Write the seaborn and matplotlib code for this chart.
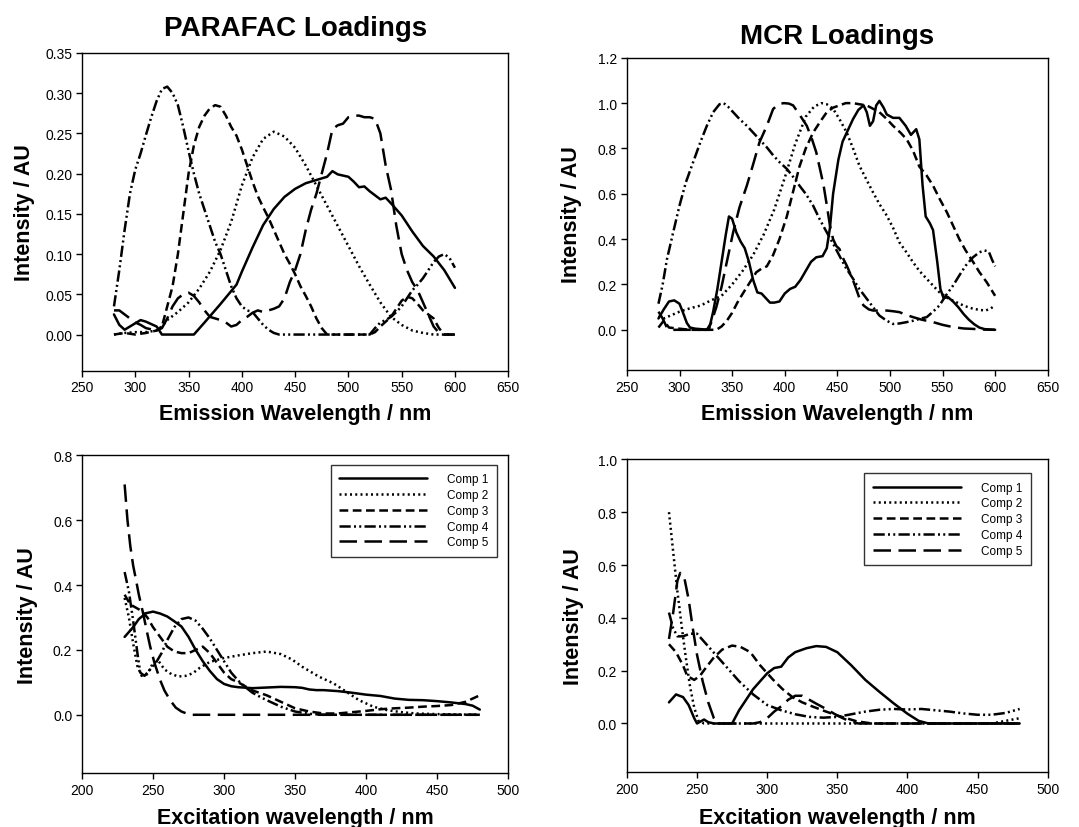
import matplotlib
matplotlib.use("Agg")
import matplotlib.pyplot as plt
from matplotlib.ticker import FormatStrFormatter
import seaborn as sns

# ---------------- PARAFAC emission loadings ----------------
par_em_x1 = [280, 285, 290, 295, 300, 305, 310, 315, 320, 325, 355, 365, 380, 395, 400, 410, 420, 430, 440,
             450, 460, 470, 480, 485, 490, 500, 505, 510, 515, 520, 530, 535, 540, 550, 560, 570, 580, 590, 600]
par_em_y1 = [0.025, 0.012, 0.006, 0.01, 0.014, 0.018, 0.016, 0.013, 0.01, 0.0, 0.0, 0.015, 0.038, 0.062, 0.078,
             0.108, 0.136, 0.156, 0.171, 0.181, 0.188, 0.192, 0.196, 0.203, 0.199, 0.196, 0.19, 0.183, 0.184,
             0.178, 0.168, 0.17, 0.163, 0.148, 0.128, 0.11, 0.097, 0.08, 0.058]
par_em_x2 = [280, 290, 300, 310, 320, 325, 330, 340, 350, 360, 370, 380, 390, 400, 410, 420, 430, 440, 450,
             460, 470, 480, 490, 500, 510, 520, 530, 540, 550, 560, 570, 580, 600]
par_em_y2 = [0.0, 0.002, 0.003, 0.003, 0.005, 0.01, 0.018, 0.028, 0.04, 0.057, 0.078, 0.105, 0.14, 0.185,
             0.22, 0.243, 0.252, 0.246, 0.232, 0.21, 0.185, 0.16, 0.135, 0.11, 0.085, 0.062, 0.04, 0.022,
             0.012, 0.005, 0.002, 0.0, 0.0]
par_em_x3 = [280, 290, 300, 310, 320, 325, 330, 335, 340, 345, 350, 355, 360, 365, 370, 375, 380, 385, 390,
             395, 400, 405, 410, 415, 420, 425, 430, 435, 440, 445, 450, 455, 460, 465, 470, 475, 480, 520,
             525, 530, 540, 545, 550, 555, 560, 565, 570, 575, 580, 585, 590, 600]
par_em_y3 = [0.0, 0.002, 0.0, 0.002, 0.005, 0.01, 0.035, 0.06, 0.1, 0.15, 0.2, 0.235, 0.258, 0.272, 0.281,
             0.285, 0.283, 0.272, 0.258, 0.247, 0.23, 0.21, 0.19, 0.172, 0.158, 0.145, 0.13, 0.115, 0.1,
             0.088, 0.075, 0.06, 0.048, 0.035, 0.02, 0.008, 0.0, 0.0, 0.003, 0.01, 0.022, 0.032, 0.042,
             0.047, 0.045, 0.038, 0.03, 0.025, 0.02, 0.008, 0.0, 0.0]
par_em_x4 = [280, 285, 290, 295, 300, 305, 310, 315, 320, 325, 330, 335, 340, 345, 350, 355, 360, 365, 370,
             375, 380, 385, 390, 395, 400, 405, 410, 415, 420, 425, 430, 435, 520, 525, 530, 535, 540, 545,
             550, 555, 560, 565, 570, 575, 580, 585, 590, 595, 600]
par_em_y4 = [0.035, 0.08, 0.13, 0.175, 0.205, 0.225, 0.248, 0.27, 0.29, 0.305, 0.308, 0.3, 0.285, 0.258,
             0.228, 0.2, 0.175, 0.155, 0.135, 0.115, 0.1, 0.08, 0.06, 0.045, 0.035, 0.03, 0.028, 0.02, 0.012,
             0.006, 0.002, 0.0, 0.0, 0.008, 0.015, 0.018, 0.022, 0.028, 0.035, 0.045, 0.055, 0.062, 0.07,
             0.08, 0.09, 0.097, 0.1, 0.095, 0.083]
par_em_x5 = [280, 285, 290, 295, 300, 305, 310, 320, 325, 330, 335, 340, 345, 350, 355, 360, 365, 370, 380,
             385, 390, 395, 400, 405, 410, 415, 420, 425, 430, 435, 440, 445, 450, 455, 460, 465, 470, 475,
             480, 485, 490, 495, 500, 505, 510, 515, 520, 525, 530, 535, 540, 545, 550, 555, 560, 565, 570,
             575, 580, 585, 590, 600]
par_em_y5 = [0.03, 0.03, 0.025, 0.02, 0.015, 0.012, 0.008, 0.005, 0.008, 0.02, 0.035, 0.045, 0.05, 0.052,
             0.048, 0.04, 0.03, 0.022, 0.018, 0.015, 0.01, 0.012, 0.018, 0.022, 0.027, 0.03, 0.028, 0.03,
             0.032, 0.035, 0.045, 0.065, 0.08, 0.1, 0.13, 0.155, 0.175, 0.2, 0.225, 0.255, 0.26, 0.262, 0.27,
             0.272, 0.272, 0.27, 0.27, 0.268, 0.25, 0.21, 0.18, 0.135, 0.1, 0.08, 0.065, 0.055, 0.04, 0.025,
             0.01, 0.002, 0.0, 0.0]

# ---------------- MCR emission loadings ----------------
mcr_em_x1 = [280, 285, 290, 295, 300, 303, 307, 310, 315, 328, 332, 336, 340, 344, 347, 350, 354, 358, 362,
             366, 370, 374, 378, 382, 386, 390, 395, 400, 405, 410, 415, 420, 425, 430, 436, 440, 443, 446,
             451, 455, 460, 465, 470, 475, 478, 481, 484, 487, 490, 494, 497, 503, 509, 515, 520, 523, 525,
             528, 531, 534, 538, 541, 545, 548, 551, 555, 560, 565, 570, 575, 580, 585, 590, 600]
mcr_em_y1 = [0.05, 0.09, 0.125, 0.13, 0.115, 0.08, 0.03, 0.01, 0.005, 0.0, 0.08, 0.18, 0.3, 0.42, 0.5,
             0.49, 0.43, 0.39, 0.36, 0.3, 0.22, 0.165, 0.16, 0.14, 0.12, 0.12, 0.125, 0.16, 0.18, 0.19, 0.22,
             0.26, 0.3, 0.32, 0.325, 0.36, 0.45, 0.6, 0.75, 0.83, 0.88, 0.93, 0.97, 0.99, 0.96, 0.9, 0.92,
             0.99, 1.01, 0.98, 0.95, 0.935, 0.935, 0.9, 0.86, 0.875, 0.885, 0.84, 0.64, 0.5, 0.47, 0.44, 0.3,
             0.18, 0.14, 0.145, 0.125, 0.1, 0.07, 0.045, 0.025, 0.01, 0.003, 0.0]
mcr_em_x2 = [280, 285, 290, 300, 310, 320, 330, 340, 350, 360, 370, 380, 390, 400, 410, 420, 428, 435, 440,
             446, 452, 459, 465, 471, 478, 484, 490, 497, 503, 509, 516, 522, 528, 535, 541, 547, 555, 563,
             571, 579, 585, 591, 596, 600]
mcr_em_y2 = [0.06, 0.05, 0.06, 0.08, 0.095, 0.107, 0.13, 0.15, 0.2, 0.26, 0.33, 0.42, 0.53, 0.67, 0.82,
             0.94, 0.985, 1.0, 0.995, 0.975, 0.93, 0.87, 0.8, 0.724, 0.66, 0.606, 0.555, 0.504, 0.45, 0.386,
             0.34, 0.298, 0.26, 0.225, 0.195, 0.166, 0.14, 0.122, 0.105, 0.093, 0.088, 0.085, 0.095, 0.107]
mcr_em_x3 = [280, 285, 290, 300, 310, 335, 340, 345, 350, 355, 361, 367, 373, 378, 383, 389, 395, 402, 408,
             414, 420, 427, 434, 440, 446, 452, 458, 465, 471, 478, 484, 490, 497, 503, 510, 516, 522, 528,
             535, 541, 547, 554, 560, 566, 572, 579, 585, 592, 596, 600]
mcr_em_y3 = [0.01, 0.04, 0.01, 0.005, 0.0, 0.0, 0.015, 0.04, 0.075, 0.12, 0.166, 0.21, 0.254, 0.27, 0.28,
             0.33, 0.4, 0.5, 0.61, 0.72, 0.8, 0.87, 0.92, 0.96, 0.98, 0.99, 1.0, 1.0, 0.995, 0.99, 0.975,
             0.96, 0.93, 0.9, 0.87, 0.84, 0.79, 0.72, 0.68, 0.636, 0.58, 0.52, 0.46, 0.4, 0.35, 0.3, 0.255,
             0.21, 0.18, 0.15]
mcr_em_x4 = [280, 284, 288, 294, 300, 306, 313, 320, 326, 332, 338, 342, 346, 351, 357, 364, 370, 376, 383,
             389, 395, 402, 408, 414, 420, 427, 433, 440, 446, 452, 458, 465, 471, 478, 484, 490, 497, 503,
             509, 516, 522, 528, 535, 541, 547, 553, 560, 566, 572, 579, 585, 590, 594, 597, 600]
mcr_em_y4 = [0.115, 0.2, 0.31, 0.43, 0.548, 0.65, 0.74, 0.83, 0.9, 0.96, 0.995, 1.0, 0.985, 0.96, 0.93,
             0.9, 0.87, 0.84, 0.805, 0.77, 0.74, 0.71, 0.675, 0.636, 0.6, 0.548, 0.49, 0.43, 0.38, 0.327,
             0.275, 0.225, 0.18, 0.137, 0.1, 0.063, 0.04, 0.026, 0.028, 0.034, 0.04, 0.048, 0.056, 0.08,
             0.107, 0.15, 0.195, 0.24, 0.283, 0.32, 0.342, 0.35, 0.345, 0.31, 0.28]
mcr_em_x5 = [280, 284, 288, 292, 326, 330, 335, 340, 345, 351, 357, 364, 370, 376, 383, 389, 394, 399, 404,
             408, 414, 421, 426, 430, 434, 437, 440, 443, 446, 449, 452, 455, 459, 464, 468, 471, 475, 480,
             484, 490, 497, 503, 509, 516, 522, 530, 541, 550, 560, 570, 579, 590, 600]
mcr_em_y5 = [0.08, 0.05, 0.01, 0.0, 0.0, 0.03, 0.1, 0.19, 0.3, 0.43, 0.54, 0.636, 0.73, 0.827, 0.9, 0.974,
             0.995, 1.0, 0.998, 0.99, 0.95, 0.9, 0.84, 0.783, 0.7, 0.636, 0.55, 0.46, 0.4, 0.37, 0.357, 0.32,
             0.283, 0.23, 0.18, 0.14, 0.107, 0.09, 0.085, 0.085, 0.085, 0.082, 0.078, 0.065, 0.056, 0.045,
             0.034, 0.022, 0.012, 0.006, 0.004, 0.001, 0.0]

# ---------------- PARAFAC excitation loadings ----------------
par_ex_x1 = [230, 236, 240, 245, 250, 255, 260, 265, 270, 275, 280, 285, 290, 295, 300, 305, 310, 320, 330,
             340, 350, 355, 360, 365, 370, 380, 390, 400, 410, 420, 430, 440, 450, 460, 470, 475, 480]
par_ex_y1 = [0.24, 0.27, 0.295, 0.313, 0.318, 0.312, 0.303, 0.288, 0.272, 0.24, 0.2, 0.165, 0.135, 0.11,
             0.095, 0.088, 0.085, 0.082, 0.084, 0.086, 0.085, 0.083, 0.078, 0.076, 0.076, 0.073, 0.068,
             0.062, 0.058, 0.05, 0.046, 0.045, 0.042, 0.038, 0.033, 0.028, 0.016]
par_ex_x2 = [230, 233, 236, 239, 242, 246, 250, 254, 258, 263, 268, 273, 278, 283, 290, 300, 310, 320, 330,
             340, 348, 355, 360, 367, 377, 386, 395, 405, 415, 425, 435, 450, 480]
par_ex_y2 = [0.36, 0.3, 0.22, 0.15, 0.12, 0.125, 0.16, 0.165, 0.14, 0.125, 0.118, 0.12, 0.128, 0.145,
             0.163, 0.175, 0.183, 0.19, 0.195, 0.187, 0.17, 0.148, 0.135, 0.117, 0.097, 0.071, 0.045, 0.025,
             0.014, 0.008, 0.004, 0.002, 0.0]
par_ex_x3 = [230, 234, 238, 242, 246, 250, 255, 260, 265, 270, 275, 280, 285, 290, 295, 300, 305, 310, 320,
             330, 340, 350, 360, 370, 380, 390, 400, 410, 420, 430, 440, 450, 460, 470, 480]
par_ex_y3 = [0.37, 0.34, 0.33, 0.32, 0.3, 0.27, 0.24, 0.21, 0.195, 0.19, 0.19, 0.2, 0.21, 0.19, 0.16, 0.13,
             0.11, 0.1, 0.075, 0.06, 0.04, 0.02, 0.01, 0.004, 0.004, 0.008, 0.012, 0.017, 0.02, 0.022, 0.025,
             0.027, 0.03, 0.04, 0.06]
par_ex_x4 = [230, 233, 236, 239, 241, 244, 248, 252, 256, 260, 265, 270, 275, 280, 285, 290, 295, 300, 305,
             310, 315, 320, 325, 330, 340, 350, 360, 370, 480]
par_ex_y4 = [0.44, 0.38, 0.29, 0.19, 0.13, 0.12, 0.14, 0.16, 0.19, 0.23, 0.27, 0.295, 0.3, 0.29, 0.265,
             0.235, 0.2, 0.165, 0.13, 0.105, 0.085, 0.068, 0.056, 0.045, 0.025, 0.01, 0.003, 0.0, 0.0]
par_ex_x5 = [230, 232, 234, 236, 238, 240, 243, 246, 248, 251, 255, 258, 262, 266, 270, 276, 480]
par_ex_y5 = [0.71, 0.6, 0.52, 0.46, 0.416, 0.37, 0.313, 0.25, 0.21, 0.16, 0.107, 0.075, 0.045, 0.022,
             0.01, 0.0, 0.0]

# ---------------- MCR excitation loadings ----------------
mcr_ex_x1 = [230, 235, 240, 244, 248, 250, 255, 258, 262, 275, 280, 290, 300, 305, 310, 315, 320, 328, 335,
             342, 350, 360, 370, 380, 390, 400, 408, 415, 480]
mcr_ex_y1 = [0.08, 0.11, 0.1, 0.07, 0.02, 0.0, 0.015, 0.005, 0.0, 0.0, 0.05, 0.13, 0.19, 0.21, 0.215, 0.25,
             0.27, 0.285, 0.293, 0.29, 0.27, 0.22, 0.165, 0.12, 0.077, 0.037, 0.01, 0.0, 0.0]
mcr_ex_x2 = [230, 233, 236, 239, 242, 245, 248, 251, 255, 460, 470, 480]
mcr_ex_y2 = [0.8, 0.65, 0.5, 0.37, 0.25, 0.14, 0.06, 0.01, 0.0, 0.0, 0.01, 0.02]
mcr_ex_x3 = [230, 235, 240, 243, 248, 252, 257, 262, 268, 275, 281, 288, 295, 304, 311, 318, 325, 332, 342,
             352, 364, 375, 480]
mcr_ex_y3 = [0.3, 0.27, 0.22, 0.18, 0.165, 0.18, 0.216, 0.25, 0.28, 0.295, 0.29, 0.27, 0.22, 0.167, 0.13,
             0.1, 0.08, 0.065, 0.045, 0.027, 0.008, 0.0, 0.0]
mcr_ex_x4 = [230, 233, 236, 240, 245, 250, 255, 260, 270, 280, 290, 300, 310, 320, 330, 340, 350, 360, 370,
             380, 390, 400, 410, 420, 430, 440, 450, 460, 470, 480]
mcr_ex_y4 = [0.42, 0.36, 0.33, 0.33, 0.34, 0.34, 0.31, 0.28, 0.22, 0.16, 0.11, 0.07, 0.05, 0.035, 0.025,
             0.022, 0.025, 0.035, 0.045, 0.052, 0.055, 0.053, 0.055, 0.05, 0.045, 0.038, 0.033, 0.033, 0.04,
             0.055]
mcr_ex_x5 = [230, 233, 236, 238, 241, 244, 247, 250, 254, 258, 262, 265, 290, 295, 300, 305, 310, 315, 320,
             325, 330, 335, 342, 350, 358, 365, 480]
mcr_ex_y5 = [0.32, 0.42, 0.54, 0.57, 0.55, 0.47, 0.36, 0.26, 0.16, 0.08, 0.02, 0.0, 0.0, 0.005, 0.02, 0.045,
             0.065, 0.09, 0.105, 0.105, 0.09, 0.075, 0.055, 0.03, 0.01, 0.0, 0.0]

comp_labels = ["Comp 1", "Comp 2", "Comp 3", "Comp 4", "Comp 5"]
comp_styles = ["-", (0, (0.8, 1.3)), (0, (3.5, 1.8)), (0, (4.5, 1.3, 0.8, 1.3, 0.8, 1.3)), (0, (7, 3))]

sns.set_theme(style="ticks")
plt.rcParams["font.family"] = ["Liberation Sans", "DejaVu Sans"]
plt.rcParams["text.color"] = "black"
plt.rcParams["axes.labelcolor"] = "black"
plt.rcParams["xtick.color"] = "black"
plt.rcParams["ytick.color"] = "black"

fig = plt.figure(figsize=(10.79, 8.28), dpi=100)


def draw_panel(rect, series, xlim, xticks, ylim, yticks, yfmt, xlabel, title=None,
               title_pad=12, legend_anchor=None, ylab_x=-0.11, xlab_y=-0.1):
    ax = fig.add_axes(rect)
    for (xs, ys), lab, ls in zip(series, comp_labels, comp_styles):
        sns.lineplot(x=xs, y=ys, ax=ax, color="black", linewidth=1.8, linestyle=ls,
                     label=lab, legend=False, estimator=None)
    ax.set_xlim(*xlim)
    ax.set_ylim(*ylim)
    ax.set_xticks(xticks)
    ax.set_yticks(yticks)
    ax.yaxis.set_major_formatter(FormatStrFormatter(yfmt))
    ax.tick_params(direction="out", length=4, width=1, labelsize=10, colors="black", pad=3)
    for sp in ax.spines.values():
        sp.set_visible(True)
        sp.set_color("black")
        sp.set_linewidth(1.0)
    ax.set_xlabel(xlabel, fontsize=15.5, fontweight="bold", color="black")
    ax.set_ylabel("Intensity / AU", fontsize=15.5, fontweight="bold", color="black")
    ax.yaxis.set_label_coords(ylab_x, 0.5)
    ax.xaxis.set_label_coords(0.5, xlab_y)
    if title:
        ax.set_title(title, fontsize=20, fontweight="bold", pad=title_pad, color="black")
    if legend_anchor is not None:
        leg = ax.legend(loc="upper right", bbox_to_anchor=legend_anchor, borderaxespad=0,
                        fontsize=8.5, handlelength=7.5, handletextpad=1.7, labelspacing=0.32,
                        frameon=True, fancybox=False, edgecolor="black", borderpad=0.7)
        leg.get_frame().set_linewidth(1.0)
    return ax


draw_panel([0.076, 0.551, 0.395, 0.384],
           [(par_em_x1, par_em_y1), (par_em_x2, par_em_y2), (par_em_x3, par_em_y3),
            (par_em_x4, par_em_y4), (par_em_x5, par_em_y5)],
           (250, 650), range(250, 651, 50), (-0.045, 0.35),
           [0, 0.05, 0.10, 0.15, 0.20, 0.25, 0.30, 0.35], "%.2f",
           "Emission Wavelength / nm", title="PARAFAC Loadings", title_pad=12.5,
           ylab_x=-0.110, xlab_y=-0.102)

draw_panel([0.581, 0.552, 0.390, 0.377],
           [(mcr_em_x1, mcr_em_y1), (mcr_em_x2, mcr_em_y2), (mcr_em_x3, mcr_em_y3),
            (mcr_em_x4, mcr_em_y4), (mcr_em_x5, mcr_em_y5)],
           (250, 650), range(250, 651, 50), (-0.177, 1.2),
           [0, 0.2, 0.4, 0.6, 0.8, 1.0, 1.2], "%.1f",
           "Emission Wavelength / nm", title="MCR Loadings", title_pad=11,
           ylab_x=-0.106, xlab_y=-0.107)

draw_panel([0.076, 0.065, 0.395, 0.384],
           [(par_ex_x1, par_ex_y1), (par_ex_x2, par_ex_y2), (par_ex_x3, par_ex_y3),
            (par_ex_x4, par_ex_y4), (par_ex_x5, par_ex_y5)],
           (200, 500), range(200, 501, 50), (-0.18, 0.8),
           [0, 0.2, 0.4, 0.6, 0.8], "%.1f",
           "Excitation wavelength / nm", legend_anchor=(0.974, 0.969),
           ylab_x=-0.104, xlab_y=-0.107)

draw_panel([0.581, 0.066, 0.390, 0.378],
           [(mcr_ex_x1, mcr_ex_y1), (mcr_ex_x2, mcr_ex_y2), (mcr_ex_x3, mcr_ex_y3),
            (mcr_ex_x4, mcr_ex_y4), (mcr_ex_x5, mcr_ex_y5)],
           (200, 500), range(200, 501, 50), (-0.185, 1.0),
           [0, 0.2, 0.4, 0.6, 0.8, 1.0], "%.1f",
           "Excitation wavelength / nm", legend_anchor=(0.96, 0.955),
           ylab_x=-0.101, xlab_y=-0.112)

fig.savefig("out.png", dpi=100)
